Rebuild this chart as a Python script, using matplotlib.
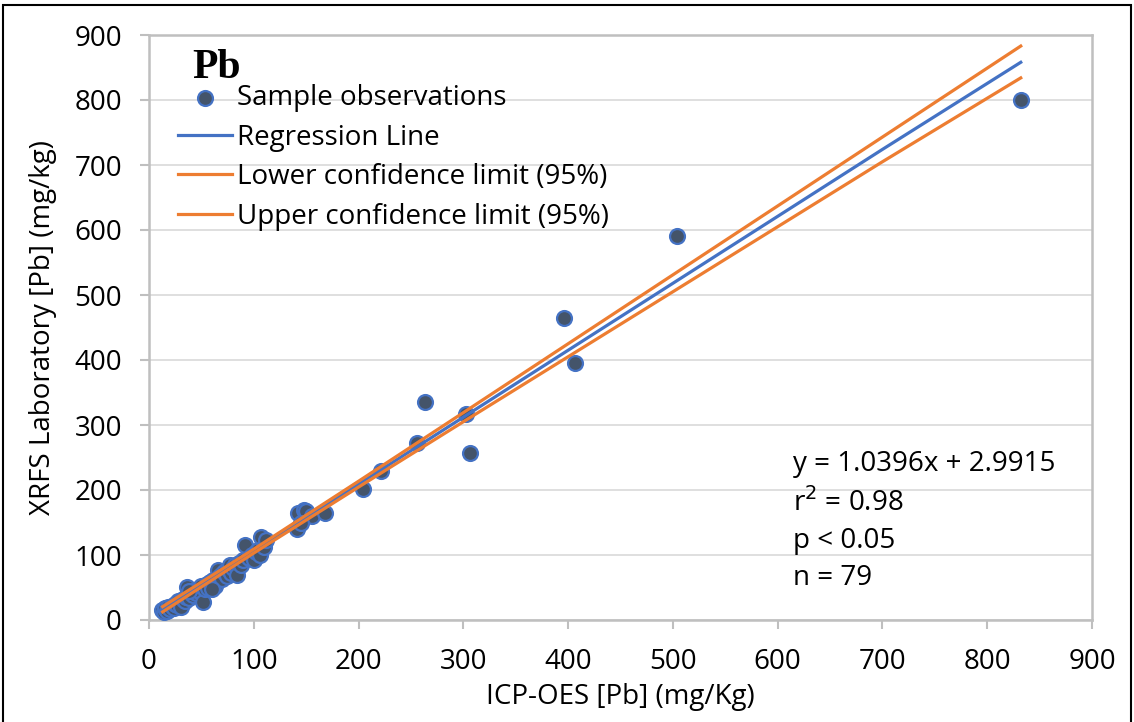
import matplotlib.pyplot as plt
import matplotlib.patches as mpatches
import numpy as np

# ICP-OES [Pb] vs XRFS laboratory [Pb], mg/kg
icp_pb = [12, 14, 15, 17, 18, 20, 22, 24, 25, 27, 28, 30, 31, 32, 34, 35, 36, 37, 38, 40,
          42, 44, 45, 47, 48, 50, 52, 53, 55, 56, 58, 60, 61, 63, 64, 66, 67, 69, 70, 72,
          74, 75, 77, 78, 80, 82, 84, 86, 88, 90, 92, 95, 98, 100, 102, 104, 106, 107, 110, 112,
          142, 141, 148, 150, 156, 168, 204, 221, 256, 263, 303, 306, 396, 407, 504, 832,
          145, 38, 60]
xrfs_pb = [15, 12, 18, 14, 20, 17, 22, 19, 25, 23, 30, 27, 20, 33, 29, 36, 51, 40, 34, 42,
           38, 46, 41, 48, 44, 52, 28, 47, 56, 50, 58, 55, 62, 52, 60, 77, 66, 70, 63, 74,
           68, 78, 85, 72, 80, 84, 70, 88, 85, 93, 116, 96, 100, 92, 104, 108, 100, 127, 112, 123,
           165, 140, 170, 168, 160, 165, 202, 229, 272, 335, 317, 257, 465, 395, 591, 800,
           150, 45, 48]

# regression line and 95% confidence limits
fit_x = [13, 100, 200, 300, 400, 500, 600, 700, 832]
fit_y = [16.5, 106, 209, 312, 415, 518, 621, 724, 858]
lower_y = [12.5, 103, 204.5, 305, 405, 505, 605, 705, 834]
upper_y = [20.5, 109, 213.5, 319, 425, 531, 637, 743, 883]

stats_text = "y = 1.0396x + 2.9915\nr$^2$ = 0.98\np < 0.05\nn = 79"

plt.rcParams['font.family'] = ['Open Sans', 'DejaVu Sans']

fig = plt.figure(figsize=(11.34, 7.22), dpi=100)
ax = fig.add_axes([149 / 1134, 1 - 620 / 722, (1092 - 149) / 1134, (620 - 35) / 722])

ax.set_xlim(0, 900)
ax.set_ylim(0, 900)
ax.set_xticks(np.arange(0, 901, 100))
ax.set_yticks(np.arange(0, 901, 100))
ax.tick_params(labelsize=20, length=6.5, width=1.5, color='#BFBFBF')
ax.tick_params(axis='y', pad=13)
ax.tick_params(axis='x', pad=14)
for s in ax.spines.values():
    s.set_color('#BFBFBF')
    s.set_linewidth(1.8)
ax.yaxis.grid(True, color='#D9D9D9', linewidth=1.2)
ax.set_axisbelow(True)

ax.scatter(icp_pb, xrfs_pb, s=115, facecolor='#44546A', edgecolor='#4472C4',
           linewidth=1.6, zorder=3, label='Sample observations')
ax.plot(fit_x, fit_y, color='#4472C4', lw=2.3, zorder=4, label='Regression Line')
ax.plot(fit_x, lower_y, color='#ED7D31', lw=2.3, zorder=4, label='Lower confidence limit (95%)')
ax.plot(fit_x, upper_y, color='#ED7D31', lw=2.3, zorder=4, label='Upper confidence limit (95%)')

ax.legend(loc='upper left', bbox_to_anchor=(0.019, 0.935), frameon=False, fontsize=20,
          handlelength=1.95, handletextpad=0.18, labelspacing=0.415, borderaxespad=0)

ax.text(0.046, 0.976, 'Pb', transform=ax.transAxes, family=['Liberation Serif'],
        fontweight='bold', fontsize=30, va='top', ha='left')
ax.text(0.683, 0.29, stats_text, transform=ax.transAxes, fontsize=20,
        va='top', ha='left', linespacing=1.43)

ax.set_xlabel('ICP-OES [Pb] (mg/Kg)', fontsize=20, labelpad=5)
ax.set_ylabel('XRFS Laboratory [Pb] (mg/kg)', fontsize=20, labelpad=12)

# outer border
fig.patches.append(mpatches.Rectangle((3 / 1134, -0.01), 1128 / 1134, 1 - 5 / 722 + 0.01,
                                      transform=fig.transFigure, fill=False,
                                      edgecolor='black', linewidth=1.5))

fig.savefig('out.png', dpi=100)
